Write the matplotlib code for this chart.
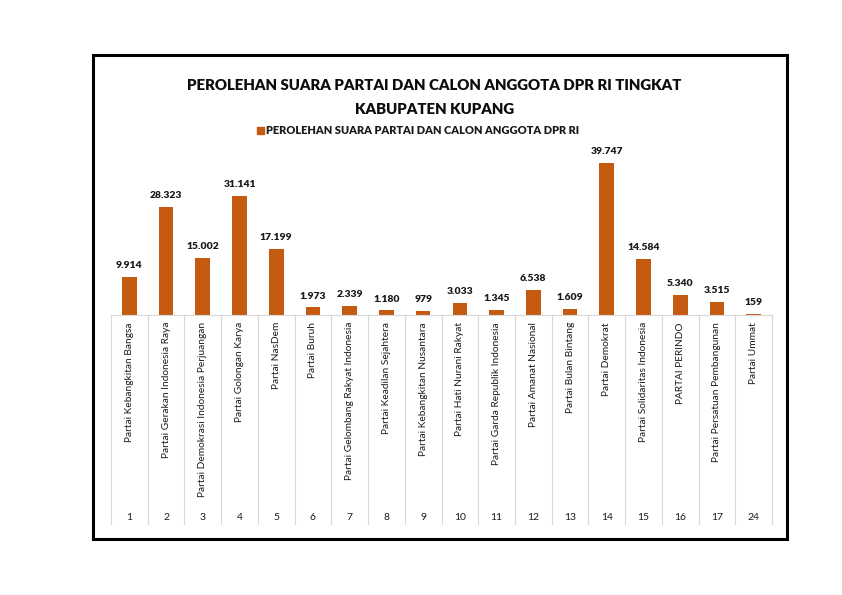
import matplotlib
matplotlib.use('Agg')
import matplotlib.pyplot as plt
from matplotlib.patches import Rectangle

plt.rcParams['font.family'] = ['Lato', 'DejaVu Sans']

# data
nomor = ['1', '2', '3', '4', '5', '6', '7', '8', '9', '10', '11', '12',
         '13', '14', '15', '16', '17', '24']
partai = ['Partai Kebangkitan Bangsa', 'Partai Gerakan Indonesia Raya',
          'Partai Demokrasi Indonesia Perjuangan', 'Partai Golongan Karya',
          'Partai NasDem', 'Partai Buruh', 'Partai Gelombang Rakyat Indonesia',
          'Partai Keadilan Sejahtera', 'Partai Kebangkitan Nusantara',
          'Partai Hati Nurani Rakyat', 'Partai Garda Republik Indonesia',
          'Partai Amanat Nasional', 'Partai Bulan Bintang', 'Partai Demokrat',
          'Partai Solidaritas Indonesia', 'PARTAI PERINDO',
          'Partai Persatuan Pembangunan', 'Partai Ummat']
suara = [9914, 28323, 15002, 31141, 17199, 1973, 2339, 1180, 979, 3033,
         1345, 6538, 1609, 39747, 14584, 5340, 3515, 159]

W, H = 842, 595
bar_color = '#C55A11'
grid_color = '#d9d9d9'
txt_color = '#1a1a1a'

fig = plt.figure(figsize=(W / 100, H / 100), dpi=100)

# plot area in pixels
x0, x1 = 111, 772
base = 315
top = 143
ax = fig.add_axes([x0 / W, (H - base) / H, (x1 - x0) / W, (base - top) / H])

x = list(range(len(suara)))
ax.bar(x, suara, width=0.4, color=bar_color)
ax.set_xlim(-0.5, len(suara) - 0.5)
ax.set_ylim(0, 45000)
ax.axis('off')

for xi, v in zip(x, suara):
    ax.annotate(f'{v:,}'.replace(',', '.'), (xi, v), xytext=(0, 5),
                textcoords='offset points', ha='center', va='bottom',
                fontsize=7.5, fontweight='heavy', color=txt_color)

# category area below the axis
h = base - top
def ypix(py):
    return (base - py) / h

tr = ax.get_xaxis_transform()
ax.plot([-0.5, len(suara) - 0.5], [0, 0], transform=tr, color=grid_color,
        lw=0.8, clip_on=False)
for b in range(len(suara) + 1):
    ax.plot([b - 0.5, b - 0.5], [0, ypix(524)], transform=tr,
            color=grid_color, lw=0.8, clip_on=False)

for xi, nama, no in zip(x, partai, nomor):
    ax.text(xi, ypix(322), nama, transform=tr, rotation=90, ha='center',
            va='top', fontsize=7.3, color=txt_color)
    ax.text(xi, ypix(517), no, transform=tr, ha='center', va='center',
            fontsize=7.5, color=txt_color)

# title and legend
fig.text(434.5 / W, 1 - 86 / H, 'PEROLEHAN SUARA PARTAI DAN CALON ANGGOTA DPR RI TINGKAT',
         ha='center', va='center', fontsize=10.8, fontweight='heavy', color='#0d0d0d')
fig.text(434.5 / W, 1 - 109 / H, 'KABUPATEN KUPANG',
         ha='center', va='center', fontsize=10.8, fontweight='heavy', color='#0d0d0d')
fig.patches.append(Rectangle((257 / W, 1 - 134 / H), 7 / W, 7 / H,
                             transform=fig.transFigure, color=bar_color))
fig.text(266 / W, 1 - 130 / H, 'PEROLEHAN SUARA PARTAI DAN CALON ANGGOTA DPR RI',
         ha='left', va='center', fontsize=7.9, fontweight='heavy', color=txt_color)

# outer frame
fig.patches.append(Rectangle((93 / W, 1 - 539 / H), (787 - 93) / W, (539 - 55) / H,
                             transform=fig.transFigure, fill=False,
                             edgecolor='black', lw=2.2))

fig.savefig('out.png', dpi=100)
